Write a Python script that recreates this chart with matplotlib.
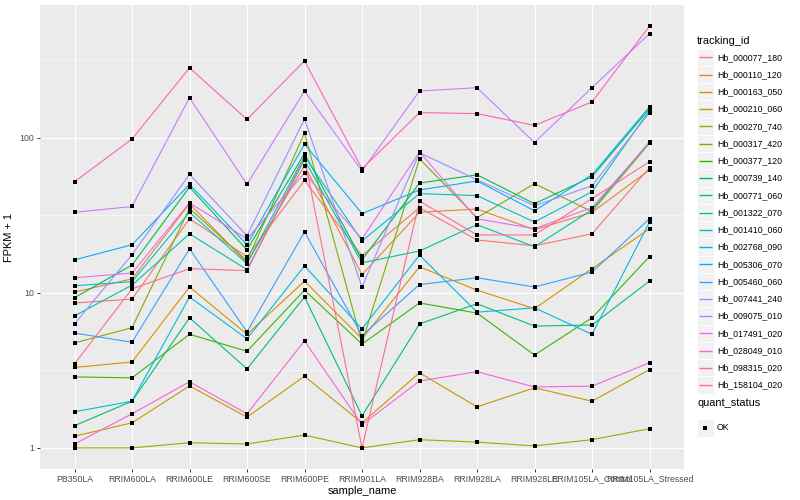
import numpy as np
import matplotlib
matplotlib.use('Agg')
import matplotlib.pyplot as plt
from matplotlib.patches import Rectangle
from matplotlib.ticker import FixedLocator, NullFormatter

plt.rcParams['font.family'] = ['Liberation Sans', 'DejaVu Sans']

# samples on the x axis
samples = ['PB350LA', 'RRIM600LA', 'RRIM600LE', 'RRIM600SE', 'RRIM600PE', 'RRIM901LA',
           'RRIM928BA', 'RRIM928LA', 'RRIM928LE', 'RRIM105LA_Control', 'RRIM105LA_Stressed']

# FPKM + 1 per tracking id
Hb_000077_180 = [8.6, 9.1, 30, 17.1, 53, 17.3, 35.4, 21.9, 20.1, 24, 64]
Hb_000110_120 = [10.1, 12.3, 37.5, 15.6, 66, 13.1, 33, 34.7, 25.5, 33, 62]
Hb_000163_050 = [3.3, 3.58, 10.9, 5.4, 11.9, 5.05, 14.7, 10.4, 7.9, 14.3, 25.9]
Hb_000210_060 = [1.19, 1.45, 2.51, 1.58, 2.9, 1.45, 3.05, 1.84, 2.44, 2.0, 3.2]
Hb_000270_740 = [1.0, 1.0, 1.08, 1.06, 1.21, 1.0, 1.13, 1.09, 1.03, 1.13, 1.33]
Hb_000317_420 = [4.75, 5.95, 35, 16.1, 107, 4.75, 73, 30.5, 50.5, 33.4, 92]
Hb_000377_120 = [2.87, 2.83, 5.4, 4.2, 10.4, 4.67, 8.6, 7.4, 3.97, 6.9, 17.1]
Hb_000739_140 = [9.3, 15.1, 48, 18.9, 79, 16.3, 51, 57.6, 37.5, 56, 154]
Hb_000771_060 = [1.39, 2.0, 6.9, 3.23, 9.4, 1.61, 6.3, 8.5, 6.1, 6.2, 11.9]
Hb_001322_070 = [7.1, 11.2, 24, 14.1, 72, 15.6, 18.6, 27.5, 19.8, 34.3, 94]
Hb_001410_060 = [11.1, 11.8, 33, 15.4, 76, 21.6, 43.6, 42.3, 28.6, 44.8, 150]
Hb_002768_090 = [1.71, 2.0, 9.4, 5.05, 14.9, 5.85, 17.5, 7.5, 8.0, 5.4, 28.6]
Hb_005306_070 = [16.3, 20.4, 50, 20.4, 91, 32.4, 46, 52.6, 33.8, 57.6, 158]
Hb_005460_060 = [5.5, 4.8, 19.2, 5.6, 24.7, 5.3, 11.3, 12.5, 10.9, 13.6, 30]
Hb_007441_240 = [6.3, 17.6, 58, 23.3, 132, 10.9, 80, 53.5, 36.4, 49, 145]
Hb_009075_010 = [33, 36, 181, 50, 200, 61, 200, 210, 93, 210, 468]
Hb_017491_020 = [12.5, 13.4, 38, 22.3, 59, 22.2, 81, 30, 25.9, 35.4, 93]
Hb_028049_010 = [1.06, 1.66, 2.67, 1.66, 4.9, 1.41, 2.7, 3.1, 2.47, 2.5, 3.54]
Hb_098315_020 = [52, 98, 282, 131, 313, 63, 145, 143, 120, 170, 524]
Hb_158104_020 = [3.48, 10.6, 14.3, 13.9, 74, 1.0, 39, 23.6, 23.6, 40.5, 70]

ids = ['Hb_000077_180', 'Hb_000110_120', 'Hb_000163_050', 'Hb_000210_060', 'Hb_000270_740',
       'Hb_000317_420', 'Hb_000377_120', 'Hb_000739_140', 'Hb_000771_060', 'Hb_001322_070',
       'Hb_001410_060', 'Hb_002768_090', 'Hb_005306_070', 'Hb_005460_060', 'Hb_007441_240',
       'Hb_009075_010', 'Hb_017491_020', 'Hb_028049_010', 'Hb_098315_020', 'Hb_158104_020']
series = [Hb_000077_180, Hb_000110_120, Hb_000163_050, Hb_000210_060, Hb_000270_740,
          Hb_000317_420, Hb_000377_120, Hb_000739_140, Hb_000771_060, Hb_001322_070,
          Hb_001410_060, Hb_002768_090, Hb_005306_070, Hb_005460_060, Hb_007441_240,
          Hb_009075_010, Hb_017491_020, Hb_028049_010, Hb_098315_020, Hb_158104_020]

# ggplot default hue palette for 20 levels
colors = ['#F8766D', '#EA8331', '#D89000', '#C09B00', '#A3A500', '#7CAE00', '#39B600',
          '#00BB4E', '#00BF7D', '#00C1A3', '#00BFC4', '#00BAE0', '#00B0F6', '#35A2FF',
          '#9590FF', '#C77CFF', '#E76BF3', '#FA62DB', '#FF62BC', '#FF6C91']

fig = plt.figure(figsize=(8, 5), dpi=100)
ax = fig.add_axes([40 / 800, 31 / 500, 644 / 800, 464 / 500])
ax.set_facecolor('#EBEBEB')

x = np.arange(len(samples))
for vals, col in zip(series, colors):
    ax.plot(x, vals, color=col, lw=0.8, zorder=2)
for vals in series:
    ax.scatter(x, vals, marker='s', s=6, color='black', linewidths=0, zorder=3)

ax.set_yscale('log')
allv = np.log10(np.concatenate([np.array(s) for s in series]))
lo, hi = allv.min(), allv.max()
pad = 0.05 * (hi - lo)
ax.set_ylim(10 ** (lo - pad), 10 ** (hi + pad))
ax.set_xlim(-0.6, len(samples) - 0.4)

ax.set_yticks([1, 10, 100])
ax.set_yticklabels(['1', '10', '100'])
ax.yaxis.set_minor_locator(FixedLocator([10 ** 0.5, 10 ** 1.5, 10 ** 2.5]))
ax.yaxis.set_minor_formatter(NullFormatter())
ax.set_xticks(x)
ax.set_xticklabels(samples)

ax.grid(which='major', color='white', lw=0.8)
ax.grid(which='minor', axis='y', color='white', lw=0.4)
ax.set_axisbelow(True)
for sp in ax.spines.values():
    sp.set_visible(False)
ax.tick_params(which='major', length=2, width=0.7, color='#333333',
               labelsize=6.3, labelcolor='#4D4D4D', pad=2)
ax.tick_params(which='minor', length=0)
ax.set_xlabel('sample_name', fontsize=7.9, labelpad=2)
ax.set_ylabel('FPKM + 1', fontsize=7.9, labelpad=4)

# legends drawn by hand in pixel coordinates
lg = fig.add_axes([0, 0, 1, 1], facecolor='none')
lg.set_xlim(0, 800)
lg.set_ylim(500, 0)
lg.axis('off')

lg.text(697, 41, 'tracking_id', fontsize=7.9, va='center', ha='left')
for i, (name, col) in enumerate(zip(ids, colors)):
    yc = 57.3 + i * 17.25
    lg.add_patch(Rectangle((696.5, yc - 8.6), 17.2, 17.2, facecolor='#F2F2F2',
                           edgecolor='white', lw=0.7, zorder=1))
    lg.plot([698.5, 711.5], [yc, yc], color=col, lw=1.0, zorder=3,
            solid_capstyle='butt')
    lg.text(717, yc, name, fontsize=6.3, va='center', ha='left')

lg.text(697, 403, 'quant_status', fontsize=7.9, va='center', ha='left')
lg.add_patch(Rectangle((696.5, 419.4), 17.2, 17.2, facecolor='#F2F2F2',
                       edgecolor='white', lw=0.7, zorder=1))
lg.scatter([705], [428], marker='s', s=6, color='black', linewidths=0, zorder=3)
lg.text(717, 428, 'OK', fontsize=6.3, va='center', ha='left')

fig.savefig('out.png', dpi=100)
